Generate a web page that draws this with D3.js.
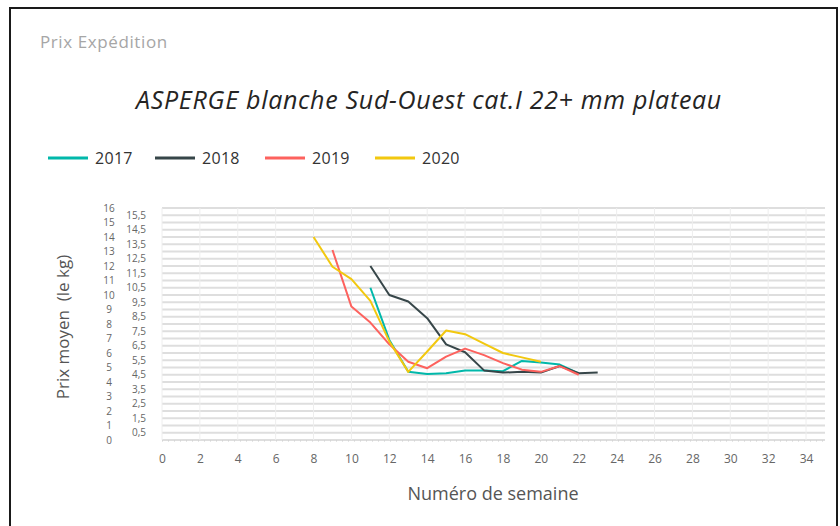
<!DOCTYPE html>
<html><head><meta charset="utf-8">
<script src="https://cdn.jsdelivr.net/npm/d3@7"></script>
<style>body{margin:0;background:#fff}svg{display:block}text{white-space:pre}</style></head>
<body><svg id="c" width="840" height="526"></svg>
<script>
const years = ["2017","2018","2019","2020"];
const colors = ["#01B8AA","#374649","#FD625E","#F2C80F"];
const weeks2017 = [11,12,13,14,15,16,17,18,19,20,21,22];
const values2017 = [10.5,6.9,4.7,4.55,4.6,4.8,4.8,4.75,5.45,5.35,5.2,4.6];
const weeks2018 = [11,12,13,14,15,16,17,18,19,20,21,22,23];
const values2018 = [12.0,10.0,9.55,8.4,6.6,6.05,4.8,4.65,4.7,4.65,5.1,4.6,4.65];
const weeks2019 = [9,10,11,12,13,14,15,16,17,18,19,20,21,22];
const values2019 = [13.1,9.2,8.1,6.6,5.4,4.95,5.75,6.3,5.85,5.3,4.85,4.7,5.1,4.5];
const weeks2020 = [8,9,10,11,12,13,14,15,16,17,18,19,20];
const values2020 = [14.0,11.95,11.1,9.6,6.8,4.7,6.1,7.55,7.3,6.65,6.0,5.7,5.4];
const xTicks = [0,2,4,6,8,10,12,14,16,18,20,22,24,26,28,30,32,34];
const yTicksInt = [0,1,2,3,4,5,6,7,8,9,10,11,12,13,14,15,16];
const yTicksHalf = [0.5,1.5,2.5,3.5,4.5,5.5,6.5,7.5,8.5,9.5,10.5,11.5,12.5,13.5,14.5,15.5];
const yLabelFmt = d => String(d).replace(".", ",");

const weeksAll = [weeks2017, weeks2018, weeks2019, weeks2020];
const valuesAll = [values2017, values2018, values2019, values2020];

const svg = d3.select("#c");
const F = "'Open Sans', 'Noto Sans', sans-serif";

// frame
svg.append("rect").attr("x",10).attr("y",8).attr("width",827).attr("height",540)
  .attr("fill","none").attr("stroke","#1a1a1a").attr("stroke-width",2);

svg.append("text").attr("x",40).attr("y",48).attr("font-family",F).attr("font-size",17)
  .attr("letter-spacing",0.6).attr("fill","#a6a6a6").text("Prix Expédition");

svg.append("text").attr("x",429).attr("y",109).attr("text-anchor","middle")
  .attr("font-family",F).attr("font-style","italic").attr("font-size",25)
  .attr("letter-spacing",0.7)
  .attr("fill","#252423").text("ASPERGE blanche Sud-Ouest cat.I 22+ mm plateau");

// legend
const legX = [48,155,265,375];
years.forEach((y,i)=>{
  const g = svg.append("g").attr("transform",`translate(${legX[i]},158)`);
  g.append("line").attr("x1",0).attr("x2",40).attr("y1",0).attr("y2",0)
    .attr("stroke",colors[i]).attr("stroke-width",3);
  g.append("text").attr("x",47).attr("y",6).attr("font-family",F).attr("font-size",16)
    .attr("letter-spacing",0.3).attr("fill","#333").text(y);
});

const x = d3.scaleLinear().domain([0,35]).range([162,825]);
const y = d3.scaleLinear().domain([0,16]).range([440,208]);

// horizontal gridlines every 0.5
const gridVals = yTicksInt.concat(yTicksHalf);
svg.append("g").selectAll("line").data(gridVals).join("line")
  .attr("x1",x(0)).attr("x2",x(35)).attr("y1",d=>y(d)).attr("y2",d=>y(d))
  .attr("stroke","#dedede").attr("stroke-width",1.8);
// vertical gridlines
svg.append("g").selectAll("line").data(xTicks).join("line")
  .attr("x1",d=>x(d)).attr("x2",d=>x(d)).attr("y1",y(16)).attr("y2",y(0))
  .attr("stroke","#eeeeee").attr("stroke-width",1);
// bottom dotted baseline
svg.append("line").attr("x1",x(0)).attr("x2",x(35)).attr("y1",y(0)+1).attr("y2",y(0)+1)
  .attr("stroke","#cccccc").attr("stroke-width",1).attr("stroke-dasharray","1,5");

// x axis
const xAxis = d3.axisBottom(x).tickValues(xTicks).tickSize(0).tickPadding(0).tickFormat(d3.format("d"));
const gx = svg.append("g").attr("transform",`translate(0,${y(0)+14})`).call(xAxis);
gx.select(".domain").remove();
gx.selectAll("text").attr("font-family",F).attr("font-size",12).attr("fill","#666").attr("dy","0.71em");

// y axes
const yAxisInt = d3.axisLeft(y).tickValues(yTicksInt).tickSize(0).tickPadding(0).tickFormat(yLabelFmt);
const gy1 = svg.append("g").attr("transform","translate(109,0)").call(yAxisInt);
gy1.select(".domain").remove();
gy1.selectAll("text").attr("font-family",F).attr("font-size",10).attr("fill","#666").attr("text-anchor","middle");

const yAxisHalf = d3.axisLeft(y).tickValues(yTicksHalf).tickSize(0).tickPadding(0).tickFormat(yLabelFmt);
const gy2 = svg.append("g").attr("transform","translate(146,0)").call(yAxisHalf);
gy2.select(".domain").remove();
gy2.selectAll("text").attr("font-family",F).attr("font-size",10).attr("fill","#666");

// axis titles
svg.append("text").attr("x",493).attr("y",500).attr("text-anchor","middle")
  .attr("font-family",F).attr("font-size",18).attr("fill","#555").text("Numéro de semaine");
svg.append("text").attr("transform","translate(69,327) rotate(-90)").attr("text-anchor","middle")
  .attr("font-family",F).attr("font-size",17).attr("fill","#555").text("Prix moyen  (le kg)");

// lines
const line = d3.line().x(d=>x(d[0])).y(d=>y(d[1]));
years.forEach((yr,i)=>{
  const pts = weeksAll[i].map((w,j)=>[w, valuesAll[i][j]]);
  svg.append("path").datum(pts).attr("d",line).attr("fill","none")
    .attr("stroke",colors[i]).attr("stroke-width",2).attr("stroke-linejoin","round");
});
</script></body></html>
